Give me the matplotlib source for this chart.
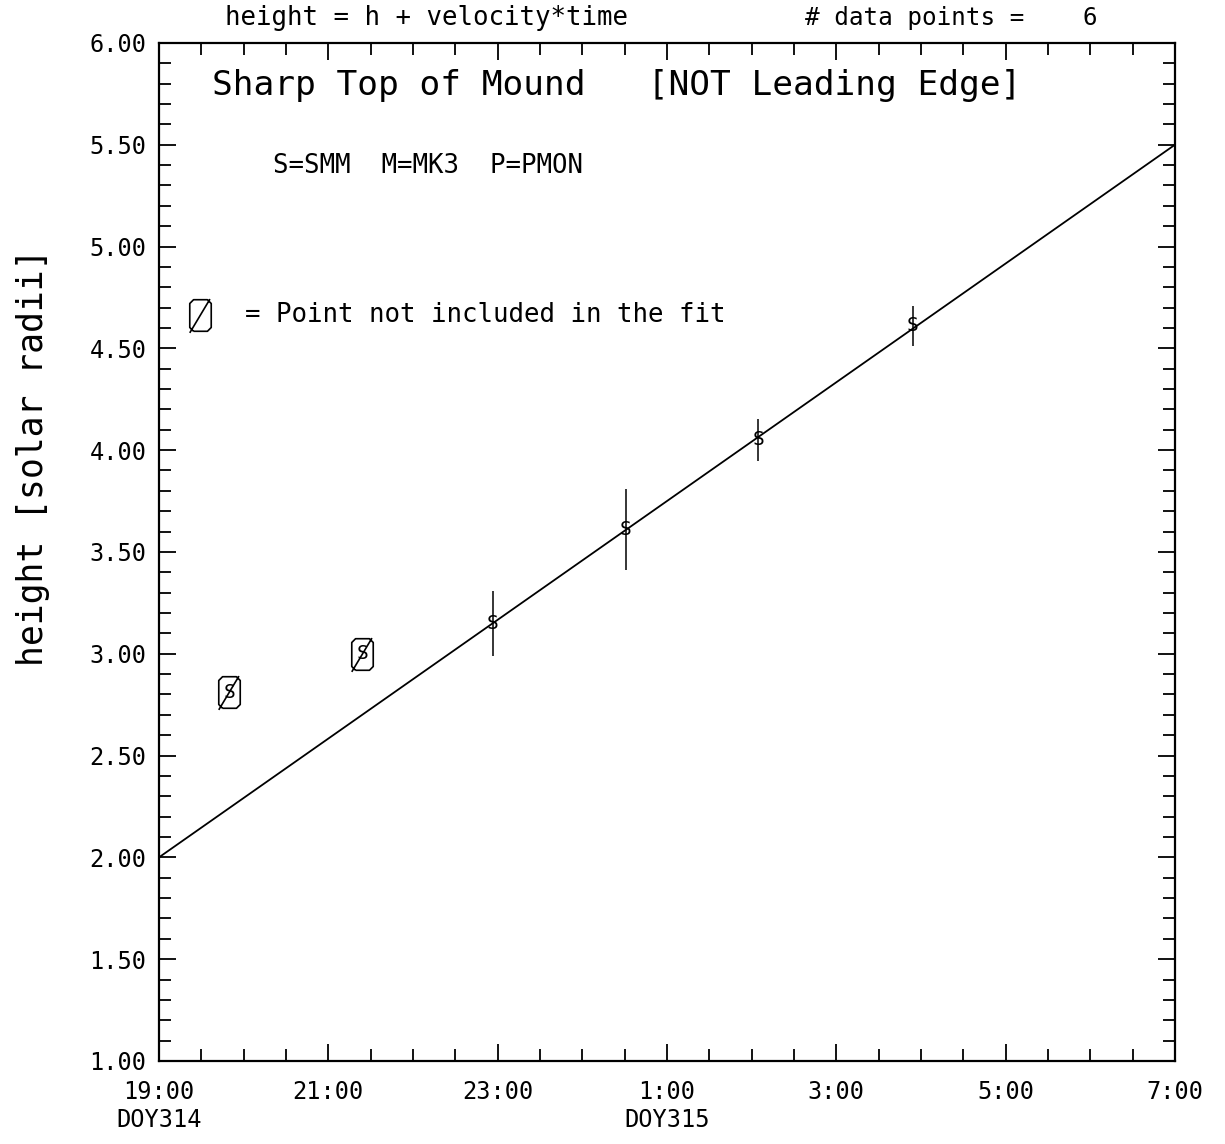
import numpy as np
import matplotlib
matplotlib.use("Agg")
import matplotlib.pyplot as plt
from matplotlib.path import Path
from matplotlib.ticker import MultipleLocator, FixedLocator, FixedFormatter

plt.rcParams['font.family'] = ['DejaVu Sans Mono']

# hours after 19:00 DOY314
t_fit = [3.94, 5.51, 7.08, 8.90]
h_fit = [3.15, 3.61, 4.05, 4.61]
err_fit = [0.16, 0.20, 0.105, 0.10]
t_skip = [0.83, 2.40]
h_skip = [2.81, 3.00]

fit_t = [0.0, 12.0]
fit_h = [2.00, 5.50]

tick_hours = [0, 2, 4, 6, 8, 10, 12]
tick_labels = ['19:00\nDOY314', '21:00', '23:00', '1:00\nDOY315', '3:00', '5:00', '7:00']
n_points = 6

# octagon with a slash through it (marks points not in the fit)
w, hh, c = 0.34, 0.5, 0.12
octo = [(-w + c, -hh), (w - c, -hh), (w, -hh + c), (w, hh - c), (w - c, hh),
        (-w + c, hh), (-w, hh - c), (-w, -hh + c), (-w + c, -hh)]
verts = octo + [(-0.34, -0.55), (0.30, 0.52)]
codes = [Path.MOVETO] + [Path.LINETO] * 8 + [Path.MOVETO, Path.LINETO]
skip_marker = Path(verts, codes)

fig = plt.figure(figsize=(12.25, 11.44), dpi=100)
ax = fig.add_axes([0.1298, 0.0726, 0.8294, 0.8899])

ax.plot(fit_t, fit_h, color='black', lw=1.3)
ax.errorbar(t_fit, h_fit, yerr=err_fit, fmt='none', ecolor='black', elinewidth=1.1, capsize=0)
for t, h in zip(t_fit + t_skip, h_fit + h_skip):
    ax.text(t, h, 'S', ha='center', va='center', fontsize=14)
ax.plot(t_skip, h_skip, linestyle='none', marker=skip_marker, markersize=25,
        markerfacecolor='none', markeredgecolor='black', markeredgewidth=1.2)

ax.set_xlim(0, 12)
ax.set_ylim(1.0, 6.0)
ax.xaxis.set_major_locator(FixedLocator(tick_hours))
ax.xaxis.set_major_formatter(FixedFormatter(tick_labels))
ax.xaxis.set_minor_locator(MultipleLocator(0.5))
ax.yaxis.set_major_locator(MultipleLocator(0.5))
ax.yaxis.set_minor_locator(MultipleLocator(0.1))
ax.yaxis.set_major_formatter(plt.FuncFormatter(lambda v, p: f'{v:.2f}'))

ax.tick_params(which='both', direction='in', top=True, right=True, width=1.3, labelsize=17)
ax.tick_params(which='major', length=12.5)
ax.tick_params(which='minor', length=8.5)
ax.tick_params(axis='x', pad=14)
ax.tick_params(axis='y', pad=9)
for lab in ax.get_xticklabels():
    lab.set_multialignment('center')
for s in ax.spines.values():
    s.set_linewidth(1.6)

ax.text(0.052, 0.958, 'Sharp Top of Mound   [NOT Leading Edge]', transform=ax.transAxes,
        fontsize=24.8, ha='left', va='center')
ax.text(0.1125, 0.879, 'S=SMM  M=MK3  P=PMON', transform=ax.transAxes,
        fontsize=18.5, ha='left', va='center')
ax.plot([0.04], [0.7325], transform=ax.transAxes, marker=skip_marker, markersize=25,
        markerfacecolor='none', markeredgecolor='black', markeredgewidth=1.2, clip_on=False)
ax.text(0.085, 0.7325, '= Point not included in the fit', transform=ax.transAxes,
        fontsize=18.5, ha='left', va='center')

fig.text(0.1837, 0.984, 'height = h + velocity*time', fontsize=18.5, ha='left', va='center')
fig.text(0.657, 0.984, f'# data points =    {n_points}', fontsize=17.5, ha='left', va='center')
fig.text(0.027, 0.600, 'height [solar radii]', rotation=90, fontsize=25, ha='center', va='center')

fig.savefig('out.png', dpi=100)
